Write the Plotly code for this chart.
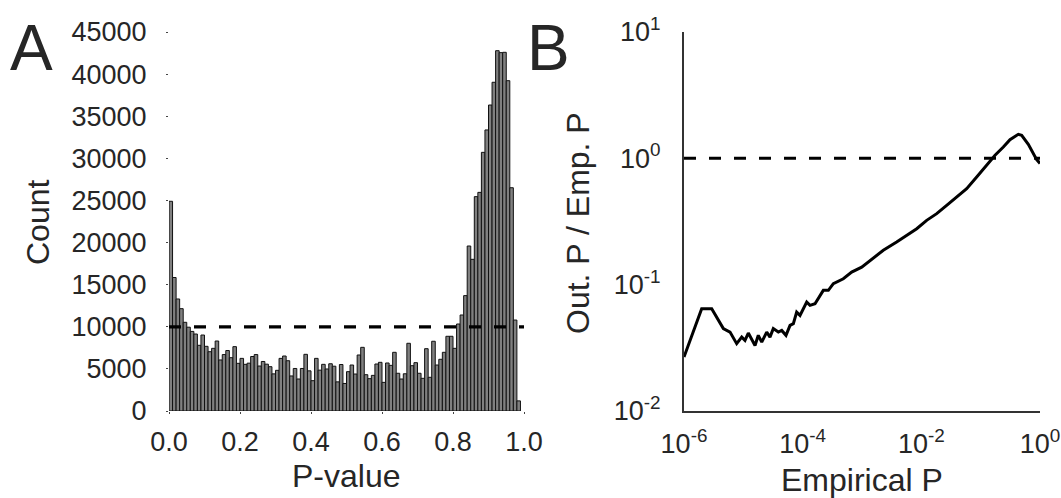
import numpy as np
import plotly.graph_objects as go

# ---------------- Panel A data: histogram of P-values (bins of 0.01) ----------------
bin_width = 0.01
counts = [
    24900, 15850, 13300, 12150, 10530, 9950, 9450, 9140, 7800, 9020,
    7680, 7040, 7440, 8310, 6060, 6700, 7180, 6330, 7640, 5660,
    6250, 5540, 5680, 6470, 6700, 5340, 5880, 5560, 5260, 4410,
    4830, 6250, 6530, 5970, 4160, 5050, 3800, 5050, 6730, 4770,
    3600, 6250, 4850, 5540, 4990, 5610, 5320, 3460, 5520, 3270,
    4670, 5460, 4390, 6650, 7560, 4310, 3840, 4230, 5580, 5780,
    3400, 5700, 5420, 6970, 4480, 3800, 4420, 8040, 5380, 5740,
    4480, 3880, 7400, 4000, 8280, 5460, 6140, 6970, 8870, 8870,
    7440, 10330, 11400, 13700, 19590, 18010, 25450, 25960, 30710, 33370,
    36330, 39030, 42780, 42550, 42590, 39220, 26510, 10800, 1200,
]
uniform_level = 10000
x_ticks_a = [0.0, 0.2, 0.4, 0.6, 0.8, 1.0]
x_ticklabels_a = ["0.0", "0.2", "0.4", "0.6", "0.8", "1.0"]
y_ticks_a = [0, 5000, 10000, 15000, 20000, 25000, 30000, 35000, 40000, 45000]

# ---------------- Panel B data: ratio curve (log10 values) ----------------
log_emp_p = [
    -6.000, -5.702, -5.533, -5.337, -5.224, -5.112, -5.027, -4.972, -4.916, -4.803,
    -4.748, -4.690, -4.606, -4.551, -4.495, -4.410, -4.353, -4.281, -4.213, -4.157,
    -4.101, -4.045, -3.932, -3.876, -3.792, -3.652, -3.567, -3.483, -3.315, -3.174,
    -3.005, -2.865, -2.641, -2.416, -2.247, -2.078, -1.910, -1.741, -1.573, -1.404,
    -1.236, -1.067, -0.899, -0.758, -0.618, -0.506, -0.365, -0.309, -0.197, -0.056,
    0.000,
]
log_ratio = [
    -1.573, -1.190, -1.190, -1.348, -1.375, -1.467, -1.415, -1.441, -1.383, -1.481,
    -1.401, -1.455, -1.375, -1.415, -1.348, -1.375, -1.362, -1.401, -1.322, -1.309,
    -1.217, -1.243, -1.138, -1.164, -1.151, -1.045, -1.045, -0.992, -0.953, -0.900,
    -0.861, -0.808, -0.728, -0.663, -0.610, -0.557, -0.491, -0.438, -0.372, -0.306,
    -0.240, -0.148, -0.055, 0.024, 0.089, 0.148, 0.190, 0.182, 0.111, -0.010,
    -0.040,
]
x_ticks_b = [1e-6, 1e-4, 1e-2, 1e0]
x_ticklabels_b = ["10<sup>-6</sup>", "10<sup>-4</sup>", "10<sup>-2</sup>", "10<sup>0</sup>"]
y_ticks_b = [1e-2, 1e-1, 1e0, 1e1]
y_ticklabels_b = ["10<sup>-2</sup>", "10<sup>-1</sup>", "10<sup>0</sup>", "10<sup>1</sup>"]

FONT = "Liberation Sans, Arial, Helvetica, sans-serif"
TXT = "#262626"
W, H = 1061, 498

def fx(px):
    return px / W

def fy(py):
    return 1 - py / H

centers = [(i + 0.5) * bin_width for i in range(len(counts))]

fig = go.Figure()
fig.add_trace(go.Bar(
    x=centers, y=counts, width=bin_width,
    marker=dict(color="#808080", line=dict(color="#111111", width=1)),
    xaxis="x", yaxis="y", showlegend=False,
))
fig.add_trace(go.Scatter(
    x=[0.0, 1.0], y=[uniform_level, uniform_level], mode="lines",
    line=dict(color="black", width=3.2, dash="12px,13px"),
    xaxis="x", yaxis="y", showlegend=False,
))
emp_p = np.power(10.0, log_emp_p)
ratio = np.power(10.0, log_ratio)
fig.add_trace(go.Scatter(
    x=[1e-6, 1.0], y=[1.0, 1.0], mode="lines",
    line=dict(color="black", width=3, dash="12px,13px"),
    xaxis="x2", yaxis="y2", showlegend=False,
))
fig.add_trace(go.Scatter(
    x=emp_p, y=ratio, mode="lines",
    line=dict(color="black", width=3),
    xaxis="x2", yaxis="y2", showlegend=False,
))

tickfont = dict(family=FONT, size=27, color=TXT)
ydom = [fy(411), fy(32)]

fig.update_layout(
    template="none",
    width=W, height=H, autosize=False,
    margin=dict(l=0, r=0, t=0, b=0, pad=0),
    paper_bgcolor="white", plot_bgcolor="white",
    bargap=0,
    hovermode=False,
    font=dict(family=FONT, color=TXT),
    xaxis=dict(
        domain=[fx(169), fx(524)], range=[0, 1.0], automargin=False,
        tickvals=x_ticks_a, ticktext=x_ticklabels_a,
        ticks="outside", ticklen=2, tickwidth=1, tickcolor="#444",
        showline=False, showgrid=False, zeroline=False,
        tickfont=tickfont, ticklabelstandoff=5,
    ),
    yaxis=dict(
        domain=ydom, range=[0, 45000], automargin=False,
        tickvals=y_ticks_a, ticktext=[str(v) for v in y_ticks_a],
        ticks="outside", ticklen=2, tickwidth=1, tickcolor="#444",
        showline=False, showgrid=False, zeroline=False,
        tickfont=tickfont, ticklabelstandoff=14,
    ),
    xaxis2=dict(
        domain=[fx(684), fx(1040)], type="log", range=[-6, 0], automargin=False,
        tickvals=x_ticks_b, ticktext=x_ticklabels_b,
        ticks="", showline=True, linecolor="#333", linewidth=2,
        showgrid=False, zeroline=False,
        tickfont=tickfont, ticklabelstandoff=8, anchor="y2",
    ),
    yaxis2=dict(
        domain=ydom, type="log", range=[-2, 1], automargin=False,
        tickvals=y_ticks_b, ticktext=y_ticklabels_b,
        ticks="", showline=True, linecolor="#333", linewidth=2,
        showgrid=False, zeroline=False,
        tickfont=tickfont, ticklabelstandoff=16, anchor="x2",
    ),
)

titlefont = dict(family=FONT, size=32, color=TXT)
annotations = [
    dict(text="Count", x=fx(38), y=fy(222), textangle=-90, font=titlefont),
    dict(text="P-value", x=fx(346), y=fy(476), font=titlefont),
    dict(text="Out. P / Emp. P", x=fx(578), y=fy(223), textangle=-90, font=titlefont),
    dict(text="Empirical P", x=fx(862), y=fy(480), font=titlefont),
    dict(text="A", x=fx(31), y=fy(48), font=dict(family=FONT, size=64, color=TXT)),
    dict(text="B", x=fx(548), y=fy(48), font=dict(family=FONT, size=64, color=TXT)),
]
for a in annotations:
    a.update(xref="paper", yref="paper", showarrow=False, xanchor="center", yanchor="middle")
fig.update_layout(annotations=annotations)

fig.write_html(
    "out.html",
    config={"displayModeBar": False, "staticPlot": True},
    post_script="document.body.style.margin='0px';document.body.style.overflow='hidden';",
)
